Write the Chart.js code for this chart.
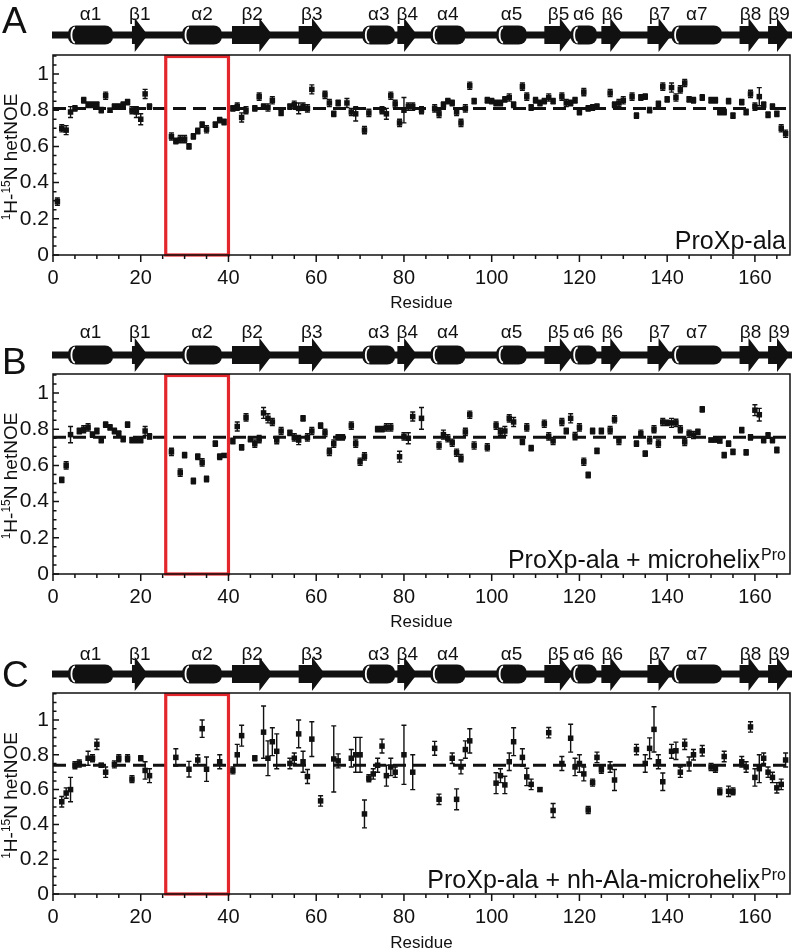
<!DOCTYPE html>
<html lang="en">
<head>
<meta charset="UTF-8">
<title>hetNOE</title>
<script src="https://cdn.jsdelivr.net/npm/chart.js"></script>
<style>
  body { margin: 0; background: #fff; overflow: hidden; width: 796px; height: 948px; }
  .panel { position: absolute; left: 0; width: 796px; height: 319px; }
</style>
</head>
<body>
<div class="panel" style="top:0px"><canvas id="chartA" width="796" height="319"></canvas></div>
<div class="panel" style="top:319px"><canvas id="chartB" width="796" height="319"></canvas></div>
<div class="panel" style="top:638px"><canvas id="chartC" width="796" height="319"></canvas></div>

<script>
// secondary structure (residue ranges)
const helices = [[3.4, 13.7, 'α1'], [29.4, 38.5, 'α2'], [70.5, 78, 'α3'], [86, 94, 'α4'],
                 [101, 108, 'α5'], [118, 124, 'α6'], [141, 152.5, 'α7']];
const strands = [[18, 21.6, 'β1'], [40.8, 50, 'β2'], [56, 62, 'β3'], [78.5, 83, 'β4'],
                 [112, 118.5, 'β5'], [125, 130, 'β6'], [135.5, 141, 'β7'], [156.5, 161.5, 'β8'], [163, 168, 'β9']];
const boxRange = [25.7, 40];

// panel A: ProXp-ala
const resA = [1,2,3,4,5, 7,8,9,10,11,12,13,14,15,16,17,18,19,20,21,22, 27,28,29,30,31,32,33,34,35, 37,38,39,
  41,42,43,44, 46,47,48,49,50, 52, 54,55,56,57,58,59, 62,63,64,65, 67,68,69, 71,72, 75,76,77,78,79,80,81,82, 84,
  87,88,89,90,91,92,93,94,95,96, 99,100,101,102,103,104,105, 107,108,109,110,111,112,113,114,
  116,117,118,119,120,121,122,123,124, 127,128,129,130, 132,133,134,135,136, 138,139,140,141,142,143,144,145,146,
  148, 150,151,152,153,154,155, 157,158,159,160,161,162,163,164,165,166,167];
const valA = [0.295,0.70,0.69,0.79,0.81,
  0.855,0.83,0.83,0.83,0.80,0.88,0.80,0.82,0.82,0.83,0.845,0.80,0.79,0.75,0.89,0.82,
  0.655,0.63,0.64,0.64,0.60,0.655,0.685,0.72,0.695,
  0.72,0.745,0.735,
  0.81,0.82,0.76,0.80,
  0.81,0.875,0.82,0.815,0.855,
  0.785,
  0.82,0.83,0.81,0.82,0.81,0.915,
  0.885,0.84,0.78,0.84,
  0.84,0.79,0.78,
  0.69,0.785,
  0.80,0.78,0.88,0.835,0.73,0.80,0.82,0.82,
  0.80,
  0.81,0.78,0.83,0.85,0.84,0.79,0.73,0.81,0.935,0.85,
  0.855,0.85,0.84,0.84,0.86,0.87,0.83,
  0.93,0.875,0.815,0.855,0.84,0.85,0.87,0.85,
  0.875,0.84,0.84,0.855,0.79,0.90,0.81,0.815,0.82,
  0.895,0.83,0.84,0.855,
  0.875,0.77,0.87,0.875,0.80,
  0.835,0.93,0.86,0.925,0.87,0.915,0.95,0.86,0.855,
  0.87,
  0.855,0.855,0.79,0.79,0.85,0.77,
  0.845,0.79,0.89,0.82,0.875,0.83,0.775,0.82,0.78,0.70,0.67];
const errA = [0.02,0.02,0.025,0.03,0.015,
  0.015,0.015,0.015,0.015,0.015,0.02,0.01,0.015,0.015,0.015,0.015,0.02,0.03,0.03,0.025,0.015,
  0.02,0.015,0.02,0.02,0.015,0.015,0.015,0.015,0.02,
  0.015,0.015,0.015,
  0.015,0.02,0.025,0.02,
  0.015,0.02,0.015,0.02,0.02,
  0.015,
  0.015,0.02,0.03,0.02,0.02,0.025,
  0.02,0.02,0.015,0.015,
  0.025,0.02,0.04,
  0.02,0.02,
  0.02,0.03,0.02,0.02,0.02,0.07,0.02,0.02,
  0.02,
  0.02,0.02,0.015,0.015,0.015,0.02,0.02,0.02,0.02,0.015,
  0.015,0.015,0.015,0.015,0.015,0.02,0.015,
  0.02,0.02,0.015,0.015,0.015,0.015,0.02,0.015,
  0.02,0.02,0.015,0.015,0.015,0.02,0.015,0.015,0.015,
  0.02,0.015,0.02,0.02,
  0.02,0.015,0.015,0.015,0.015,
  0.015,0.02,0.015,0.025,0.02,0.02,0.02,0.015,0.015,
  0.015,
  0.015,0.015,0.015,0.015,0.015,0.015,
  0.015,0.015,0.02,0.02,0.05,0.015,0.015,0.015,0.015,0.02,0.02];

// panel B: ProXp-ala + microhelix
const resB = [2,3,4,6,7,8,9,10,11,12,13,14,15,16,17,18,19,20,21,22, 27,29,30,32,33,34,35,37,38,39,
  41,42,43,44,45,46,47,48,49,50,51,52, 54,55,56,57,58,59, 61,62,63,64,65,66, 68,69,70,71, 74,75,76,77,
  79,80,81,82, 84, 88,89,90,91,92,93,94,95,96, 99, 101,102,103,104,105, 107,108,109, 112,113,114,
  116,117,118,119,120,121,122,123,124,125, 127,128,129,
  133,134,135,136,137,138,139,140,141,142,143,144,145,146,147,148, 150,151,152,153,154,155,
  157,158,159,160,161,162,163,164,165];
const valB = [0.52,0.60,0.77,0.79,0.80,0.81,0.77,0.79,0.74,0.825,0.81,0.79,0.775,0.745,0.825,0.74,0.74,0.74,0.79,0.76,
  0.675,0.56,0.657,0.514,0.648,0.617,0.525,0.72,0.648,0.655,
  0.735,0.815,0.70,0.865,0.745,0.72,0.745,0.89,0.86,0.84,0.74,0.79,
  0.78,0.755,0.74,0.86,0.755,0.79,
  0.82,0.78,0.675,0.72,0.755,0.755,
  0.82,0.72,0.62,0.65,
  0.80,0.80,0.81,0.81,
  0.648,0.76,0.75,0.87,
  0.86,
  0.71,0.77,0.75,0.725,0.67,0.64,0.785,0.88,0.71,
  0.70,
  0.82,0.785,0.79,0.86,0.84,
  0.73,0.81,0.695,
  0.83,0.76,0.735,
  0.84,0.79,0.86,0.762,0.81,0.62,0.547,0.79,0.68,0.79,
  0.795,0.855,0.735,
  0.72,0.775,0.665,0.74,0.80,0.72,0.84,0.835,0.835,0.835,0.80,0.73,0.775,0.768,0.785,0.91,
  0.74,0.74,0.735,0.657,0.72,0.675,
  0.795,0.672,0.755,0.905,0.88,0.74,0.765,0.74,0.685];
const errB = [0.015,0.02,0.045,0.015,0.02,0.02,0.015,0.015,0.015,0.015,0.015,0.015,0.015,0.015,0.015,0.015,0.015,0.015,0.025,0.015,
  0.02,0.02,0.015,0.015,0.015,0.02,0.015,0.015,0.015,0.01,
  0.015,0.025,0.015,0.02,0.015,0.02,0.02,0.03,0.025,0.02,0.02,0.02,
  0.015,0.02,0.025,0.015,0.02,0.02,
  0.015,0.02,0.02,0.02,0.015,0.015,
  0.02,0.02,0.02,0.02,
  0.015,0.015,0.02,0.02,
  0.03,0.02,0.03,0.025,
  0.06,
  0.02,0.025,0.02,0.02,0.02,0.02,0.02,0.02,0.02,
  0.02,
  0.02,0.02,0.025,0.02,0.025,
  0.015,0.02,0.015,
  0.02,0.02,0.02,
  0.02,0.015,0.025,0.02,0.02,0.02,0.015,0.015,0.015,0.015,
  0.02,0.02,0.02,
  0.015,0.02,0.015,0.02,0.02,0.02,0.02,0.015,0.025,0.02,0.02,0.02,0.02,0.02,0.015,0.015,
  0.01,0.01,0.01,0.015,0.015,0.015,
  0.015,0.015,0.015,0.03,0.035,0.015,0.015,0.015,0.015];

// panel C: ProXp-ala + nh-Ala-microhelix
const resC = [2,3,4,5,6,8,9,10,11,12,14,15,17,18,20,21,22, 28,31,33,34,35,38,
  41,42,43,46,48,49,50,51, 54,55,56,57,58,59,61,64,65, 68,69,70,71,72,73,74,75,76,77,78,
  80,82,87,88,91,92,93,94,95, 101,102,103,104,105,107,108,109,111,113,114,
  116,118,119,120,121,122,123,124,125,127,128, 133,135,136,137,138,139,141,142,143,144,145,146,148,
  150,151,152,153,154,155,157,158,159,160,161,162,163,164,165,166,167];
const valC = [0.53,0.58,0.60,0.74,0.75,0.78,0.78,0.86,0.74,0.70,0.745,0.78,0.78,0.66,0.78,0.71,0.68,
  0.785,0.717,0.77,0.95,0.717,0.76,
  0.71,0.80,0.91,0.78,0.93,0.78,0.875,0.82,
  0.75,0.78,0.92,0.76,0.675,0.89,0.535,0.776,0.765,
  0.78,0.80,0.80,0.46,0.665,0.69,0.74,0.85,0.68,0.73,0.70,
  0.80,0.70,0.837,0.544,0.78,0.544,0.73,0.83,0.88,
  0.637,0.68,0.627,0.76,0.875,0.785,0.673,0.63,0.60,0.927,0.48,
  0.75,0.895,0.73,0.75,0.69,0.483,0.64,0.785,0.714,0.73,0.655,
  0.83,0.75,0.837,0.946,0.76,0.645,0.82,0.823,0.70,0.86,0.747,0.80,0.823,
  0.73,0.72,0.59,0.79,0.59,0.59,0.76,0.73,0.96,0.67,0.72,0.78,0.70,0.67,0.61,0.63,0.77];
const errC = [0.03,0.03,0.07,0.02,0.02,0.04,0.02,0.03,0.01,0.03,0.02,0.02,0.02,0.02,0.015,0.05,0.04,
  0.05,0.045,0.03,0.05,0.07,0.04,
  0.02,0.06,0.06,0.015,0.15,0.1,0.08,0.1,
  0.03,0.03,0.08,0.06,0.04,0.1,0.03,0.19,0.04,
  0.05,0.1,0.1,0.08,0.02,0.03,0.04,0.04,0.06,0.05,0.03,
  0.17,0.1,0.04,0.03,0.03,0.06,0.04,0.05,0.07,
  0.06,0.04,0.05,0.05,0.08,0.05,0.05,0.03,0.01,0.03,0.04,
  0.04,0.08,0.05,0.05,0.04,0.02,0.02,0.03,0.02,0.03,0.06,
  0.03,0.05,0.06,0.13,0.04,0.05,0.04,0.05,0.03,0.03,0.04,0.03,0.03,
  0.02,0.02,0.02,0.03,0.03,0.02,0.03,0.03,0.03,0.05,0.08,0.03,0.03,0.03,0.03,0.03,0.04];

const ink = '#111';
const family = '"Liberation Sans", Arial, Helvetica, sans-serif';
Chart.defaults.font.family = family;
Chart.defaults.color = ink;

const decoPlugin = {
  id: 'deco',
  afterDatasetsDraw(chart, args, o) {
    const {ctx, chartArea: a, scales: {x, y}} = chart;
    const ds = chart.data.datasets[0];
    const meta = chart.getDatasetMeta(0);
    ctx.save();
    // error bars
    ctx.strokeStyle = ink;
    ctx.lineWidth = 1.4;
    ctx.beginPath();
    meta.data.forEach((el, i) => {
      const v = ds.data[i].y, e = ds.errs[i];
      const y1 = y.getPixelForValue(v - e), y2 = y.getPixelForValue(v + e);
      ctx.moveTo(el.x, y1); ctx.lineTo(el.x, y2);
      ctx.moveTo(el.x - 2.5, y1); ctx.lineTo(el.x + 2.5, y1);
      ctx.moveTo(el.x - 2.5, y2); ctx.lineTo(el.x + 2.5, y2);
    });
    ctx.stroke();
    // red box around alpha2
    ctx.strokeStyle = '#e3262b';
    ctx.lineWidth = 3.2;
    const bx1 = x.getPixelForValue(boxRange[0]), bx2 = x.getPixelForValue(boxRange[1]);
    const by0 = y.getPixelForValue(0);
    ctx.strokeRect(bx1, a.top + 1.5, bx2 - bx1, by0 - a.top - 1.5);
    ctx.restore();
  },
  afterDraw(chart, args, o) {
    const {ctx, chartArea: a, scales: {x, y}} = chart;
    ctx.save();
    ctx.strokeStyle = ink;
    ctx.fillStyle = ink;
    // frame
    ctx.lineWidth = 1.5;
    ctx.strokeRect(a.left, a.top, a.right - a.left, a.bottom - a.top);
    // ticks
    ctx.beginPath();
    x.ticks.forEach(t => {
      const px = x.getPixelForValue(t.value);
      const len = t.value % 20 === 0 ? 7 : 4;
      ctx.moveTo(px, a.bottom); ctx.lineTo(px, a.bottom + len);
    });
    y.ticks.forEach(t => {
      const py = y.getPixelForValue(t.value);
      const len = Math.round(t.value * 100) % 20 === 0 ? 6 : 3.5;
      ctx.moveTo(a.left, py); ctx.lineTo(a.left + len, py);
    });
    ctx.stroke();

    // secondary structure diagram
    const y0 = o.ssY;
    ctx.fillRect(x.getPixelForValue(0) - 1, y0 - 3.5, a.right - x.getPixelForValue(0) + 3, 7);
    helices.forEach(([s, e]) => {
      const x1 = x.getPixelForValue(s), x2 = x.getPixelForValue(e);
      ctx.fillStyle = ink;
      ctx.beginPath();
      ctx.roundRect(x1, y0 - 9.5, x2 - x1, 19, 8);
      ctx.fill();
      ctx.strokeStyle = '#fff';
      ctx.lineWidth = 1.8;
      ctx.beginPath();
      ctx.ellipse(x1 + 7, y0, 3.5, 7.5, 0, Math.PI * 0.5, Math.PI * 1.5);
      ctx.stroke();
    });
    ctx.fillStyle = ink;
    strands.forEach(([s, e]) => {
      const x1 = x.getPixelForValue(s), x2 = x.getPixelForValue(e);
      const hl = 13, bh = 9, hh = 17;
      ctx.beginPath();
      ctx.moveTo(x1, y0 - bh);
      ctx.lineTo(x2 - hl, y0 - bh);
      ctx.lineTo(x2 - hl, y0 - hh);
      ctx.lineTo(x2, y0);
      ctx.lineTo(x2 - hl, y0 + hh);
      ctx.lineTo(x2 - hl, y0 + bh);
      ctx.lineTo(x1, y0 + bh);
      ctx.closePath();
      ctx.fill();
    });
    ctx.font = '19px ' + family;
    ctx.textAlign = 'center';
    ctx.textBaseline = 'middle';
    helices.concat(strands).forEach(([s, e, label]) => {
      ctx.fillText(label, x.getPixelForValue((s + e) / 2), o.labelY);
    });

    // panel letter
    ctx.textAlign = 'left';
    ctx.textBaseline = 'alphabetic';
    ctx.font = '37px ' + family;
    ctx.fillText(o.letter, 2, o.letterY);

    // y axis title with superscripts
    const parts = [['1', true], ['H-', false], ['15', true], ['N hetNOE', false]];
    const big = '19px ' + family, small = '12px ' + family;
    let total = 0;
    parts.forEach(([t, sup]) => { ctx.font = sup ? small : big; total += ctx.measureText(t).width; });
    ctx.translate(17, (a.top + a.bottom) / 2 + 2);
    ctx.rotate(-Math.PI / 2);
    let cx = -total / 2;
    parts.forEach(([t, sup]) => {
      ctx.font = sup ? small : big;
      ctx.fillText(t, cx, sup ? -7 : 0);
      cx += ctx.measureText(t).width;
    });
    ctx.setTransform(1, 0, 0, 1, 0, 0);

    // sample annotation, bottom right
    ctx.textAlign = 'right';
    ctx.font = '16px ' + family;
    let rx = a.right - 4;
    const by = a.bottom - 6;
    if (o.sup) {
      ctx.fillText(o.sup, rx, by - 8);
      rx -= ctx.measureText(o.sup).width + 1;
    }
    ctx.font = '25px ' + family;
    ctx.fillText(o.note, rx, by);
    ctx.restore();
  }
};

function makePanel(id, res, vals, errs, avg, yMax, axisH, titlePad, deco) {
  const pts = res.map((r, i) => ({x: r, y: vals[i]}));
  return new Chart(document.getElementById(id), {
    type: 'scatter',
    data: {
      datasets: [
        { data: pts, errs: errs, pointStyle: 'rect', pointRadius: 3.9, backgroundColor: ink, borderWidth: 0, order: 1 },
        { type: 'line', data: [{x: 0, y: avg}, {x: 168, y: avg}], borderColor: ink, borderWidth: 3,
          borderDash: [13, 7], pointRadius: 0, fill: false, order: 2 }
      ]
    },
    options: {
      responsive: false,
      animation: false,
      events: [],
      layout: { padding: { left: 0, right: 6, top: 55, bottom: 0 } },
      plugins: { legend: { display: false }, tooltip: { enabled: false }, deco: deco },
      scales: {
        x: {
          type: 'linear', min: 0, max: 168,
          afterFit: s => { s.height = axisH; },
          grid: { display: false, drawTicks: false },
          border: { display: false },
          ticks: {
            stepSize: 5, autoSkip: false, maxRotation: 0, includeBounds: false, padding: 11,
            color: ink, font: { size: 20 },
            callback: v => (v % 20 === 0 ? String(v) : '')
          },
          title: { display: true, text: 'Residue', color: ink, font: { size: 17 }, padding: { top: 0, bottom: titlePad } }
        },
        y: {
          min: 0, max: yMax,
          afterFit: s => { s.width = 53; },
          grid: { display: false, drawTicks: false },
          border: { display: false },
          ticks: {
            stepSize: 0.05, maxTicksLimit: 1000, autoSkip: false, includeBounds: false, padding: 4,
            color: ink, font: { size: 21 },
            callback: v => {
              const k = Math.round(v * 100);
              if (k % 20 !== 0) return '';
              return k === 0 ? '0' : k === 100 ? '1' : (k / 100).toFixed(1);
            }
          }
        }
      }
    },
    plugins: [decoPlugin]
  });
}

makePanel('chartA', resA, valA, errA, 0.81, 1.105, 64, 5,
  { letter: 'A', letterY: 33, ssY: 35, labelY: 15, note: 'ProXp-ala', sup: '' });
makePanel('chartB', resB, valB, errB, 0.755, 1.105, 64, 5,
  { letter: 'B', letterY: 55, ssY: 36, labelY: 14, note: 'ProXp-ala + microhelix', sup: 'Pro' });
makePanel('chartC', resC, valC, errC, 0.74, 1.155, 63, 3,
  { letter: 'C', letterY: 49, ssY: 36, labelY: 17, note: 'ProXp-ala + nh-Ala-microhelix', sup: 'Pro' });
</script>
</body>
</html>
